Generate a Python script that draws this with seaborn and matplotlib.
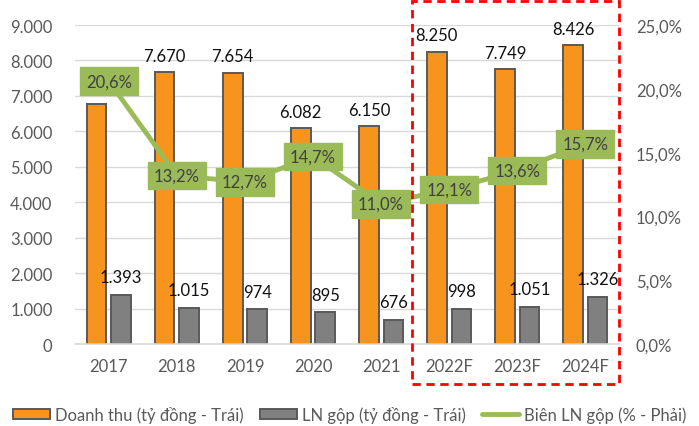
import numpy as np
import pandas as pd
import matplotlib
matplotlib.use("Agg")
import matplotlib.pyplot as plt
from matplotlib.patches import Rectangle, Patch
from matplotlib.lines import Line2D
import seaborn as sns

years = ["2017", "2018", "2019", "2020", "2021", "2022F", "2023F", "2024F"]
revenue = [6760, 7670, 7654, 6082, 6150, 8250, 7749, 8426]
gross_profit = [1393, 1015, 974, 895, 676, 998, 1051, 1326]
margin = [20.6, 13.2, 12.7, 14.7, 11.0, 12.1, 13.6, 15.7]
revenue_labels = [None, "7.670", "7.654", "6.082", "6.150", "8.250", "7.749", "8.426"]
gp_labels = ["1.393", "1.015", "974", "895", "676", "998", "1.051", "1.326"]

rev_name = "Doanh thu (tỷ đồng - Trái)"
gp_name = "LN gộp (tỷ đồng - Trái)"
margin_name = "Biên LN gộp (% - Phải)"

sns.set_theme(style="white")
plt.rcParams["font.family"] = ["Lato", "DejaVu Sans"]

ORANGE = "#F7941D"
GREY = "#808080"
EDGE = "#595959"
GREEN = "#9BBB59"
TXT = "#595959"

df = pd.DataFrame({
    "year": years * 2,
    "value": revenue + gross_profit,
    "series": [rev_name] * len(years) + [gp_name] * len(years),
})

fig = plt.figure(figsize=(6.99, 4.27), dpi=100)
ax = fig.add_axes([0.107, 0.192, 0.779, 0.747])

sns.barplot(data=df, x="year", y="value", hue="series", order=years,
            palette=[ORANGE, GREY], saturation=1, width=0.72, gap=0.2, ax=ax,
            edgecolor=EDGE, linewidth=1.4, legend=False, errorbar=None)

ax.set_ylim(0, 9000)
ax.set_yticks(np.arange(0, 9001, 1000))
ax.set_yticklabels([f"{v:,}".replace(",", ".") for v in range(0, 9001, 1000)])
ax.set_xlim(-0.5, len(years) - 0.5)
ax.set_xlabel("")
ax.set_ylabel("")
ax.grid(axis="y", color="#D9D9D9", linewidth=1)
ax.set_axisbelow(True)
for s in ["top", "right", "left"]:
    ax.spines[s].set_visible(False)
ax.spines["bottom"].set_color("#D9D9D9")
ax.spines["bottom"].set_linewidth(1.2)
ax.tick_params(axis="both", length=0, labelsize=12, colors=TXT)
ax.tick_params(axis="x", pad=10)
ax.tick_params(axis="y", pad=16)

# value labels on bars
bars_rev = ax.patches[:len(years)]
bars_gp = ax.patches[len(years):2 * len(years)]
for b, lab in zip(bars_rev, revenue_labels):
    if lab:
        ax.annotate(lab, (b.get_x() + b.get_width() / 2, b.get_height()),
                    xytext=(0, 6), textcoords="offset points",
                    ha="center", va="bottom", fontsize=12, color="#111111")
for b, lab in zip(bars_gp, gp_labels):
    ax.annotate(lab, (b.get_x() + b.get_width() / 2, b.get_height()),
                xytext=(0, 7), textcoords="offset points",
                ha="center", va="bottom", fontsize=12, color="#111111")

# margin line on the right axis
ax2 = ax.twinx()
xpos = np.arange(len(years))
sns.lineplot(x=xpos, y=margin, color=GREEN, linewidth=3.5, ax=ax2, legend=False)
ax2.set_ylim(0, 25)
ax2.set_yticks(np.arange(0, 26, 5))
ax2.set_yticklabels([f"{v:.1f}%".replace(".", ",") for v in range(0, 26, 5)])
ax2.set_xlim(-0.5, len(years) - 0.5)
for s in ["top", "right", "left", "bottom"]:
    ax2.spines[s].set_visible(False)
ax2.tick_params(axis="y", length=0, labelsize=12, colors=TXT, pad=12)
ax2.set_ylabel("")

for x, m in zip(xpos, margin):
    ax2.text(x, m, f"{m:.1f}%".replace(".", ","), ha="center", va="center",
             fontsize=12, color="#404040",
             bbox=dict(boxstyle="square,pad=0.35", fc=GREEN, ec=GREEN))

# dashed frame around forecast years
fig.patches.append(Rectangle((0.589, 0.098), 0.296, 0.897, transform=fig.transFigure,
                             fill=False, edgecolor="#FF0000", linewidth=2,
                             linestyle=(0, (3, 2)), zorder=10))

handles = [
    Patch(facecolor=ORANGE, edgecolor=EDGE, linewidth=1.4, label=rev_name),
    Patch(facecolor=GREY, edgecolor=EDGE, linewidth=1.4, label=gp_name),
    Line2D([0], [0], color=GREEN, linewidth=3.5, label=margin_name),
]
fig.legend(handles=handles, loc="center", bbox_to_anchor=(0.5, 0.027), ncol=3,
           frameon=False, fontsize=12, labelcolor=TXT, handlelength=2.2,
           handleheight=0.6, handletextpad=0.3, columnspacing=1.0)

fig.savefig("out.png", dpi=100)
